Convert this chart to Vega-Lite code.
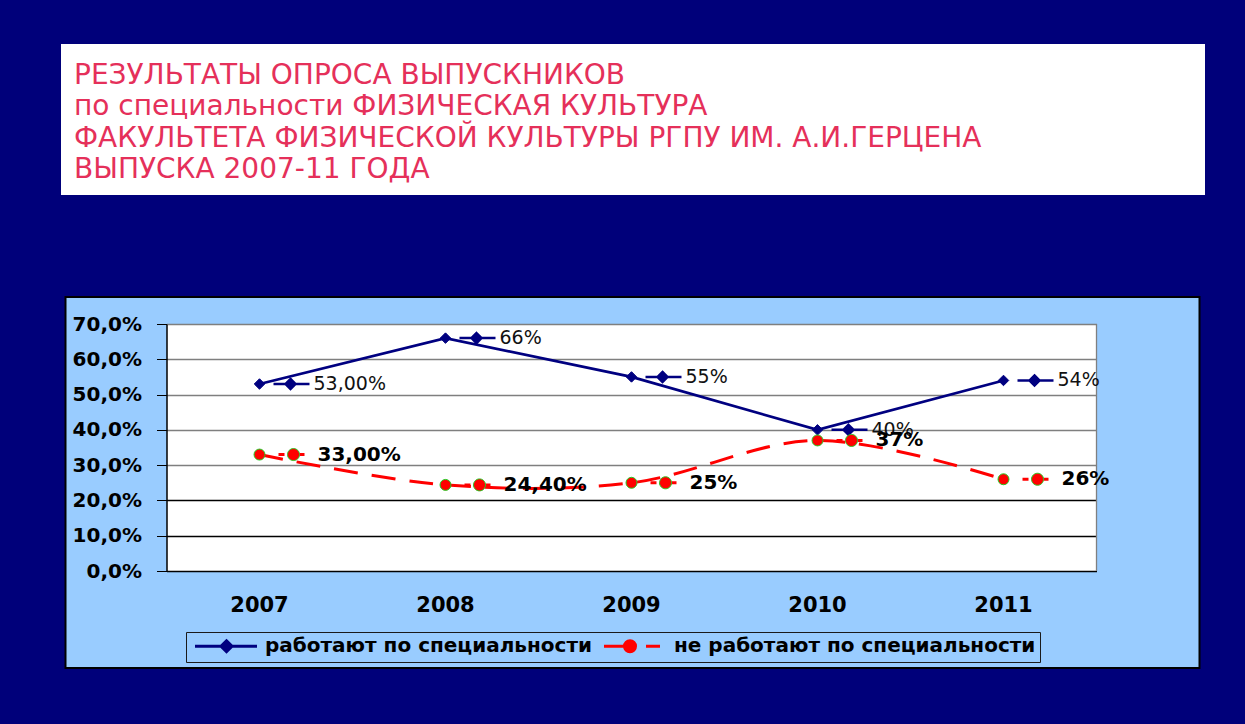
{
  "$schema": "https://vega.github.io/schema/vega-lite/v6.json",
  "background": "#00007A",
  "padding": {"left": 61, "top": 44, "right": 40, "bottom": 56},
  "spacing": 101,
  "center": true,
  "config": {"view": {"stroke": null}, "font": "DejaVu Sans"},
  "vconcat": [
    {
      "width": 1144,
      "height": 151,
      "view": {"fill": "#FFFFFF", "stroke": null},
      "title": {
        "text": ["РЕЗУЛЬТАТЫ ОПРОСА ВЫПУСКНИКОВ", "по специальности ФИЗИЧЕСКАЯ КУЛЬТУРА", "ФАКУЛЬТЕТА ФИЗИЧЕСКОЙ КУЛЬТУРЫ РГПУ ИМ. А.И.ГЕРЦЕНА", "ВЫПУСКА 2007-11 ГОДА"],
        "anchor": "start",
        "frame": "group",
        "orient": "top",
        "offset": -140,
        "dx": 13,
        "font": "DejaVu Sans",
        "fontSize": 28,
        "fontWeight": "normal",
        "color": "#E5305A",
        "lineHeight": 31.5
      },
      "data": {"values": []},
      "mark": {"type": "text"},
      "encoding": {"text": {"value": ""}}
    },
    {
      "width": 1134,
      "height": 371,
      "view": {"fill": "#99CCFF", "stroke": "#000000", "strokeWidth": 2},
      "data": {
        "values": [
          {"year": "2007", "series": "работают по специальности", "value": 53, "label": "53,00%"},
          {"year": "2008", "series": "работают по специальности", "value": 66, "label": "66%"},
          {"year": "2009", "series": "работают по специальности", "value": 55, "label": "55%"},
          {"year": "2010", "series": "работают по специальности", "value": 40, "label": "40%"},
          {"year": "2011", "series": "работают по специальности", "value": 54, "label": "54%"},
          {"year": "2007", "series": "не работают по специальности", "value": 33, "label": "33,00%"},
          {"year": "2008", "series": "не работают по специальности", "value": 24.4, "label": "24,40%"},
          {"year": "2009", "series": "не работают по специальности", "value": 25, "label": "25%"},
          {"year": "2010", "series": "не работают по специальности", "value": 37, "label": "37%"},
          {"year": "2011", "series": "не работают по специальности", "value": 26, "label": "26%"}
        ]
      },
      "encoding": {
        "x": {
          "field": "year",
          "type": "ordinal",
          "scale": {"type": "band", "range": [101, 1031], "paddingInner": 0, "paddingOuter": 0},
          "axis": {
            "orient": "top",
            "offset": -317,
            "title": null,
            "labelAngle": 0,
            "domain": false,
            "ticks": false,
            "tickBand": "center",
            "labelFont": "DejaVu Sans",
            "labelFontWeight": "bold",
            "labelFontSize": 21,
            "labelColor": "#000000",
            "labelBaseline": "alphabetic",
            "labelPadding": 3,
            "grid": true,
            "gridColor": "#FFFFFF",
            "gridWidth": 186,
            "gridOpacity": 1
          }
        },
        "y": {
          "field": "value",
          "type": "quantitative",
          "scale": {"domain": [0, 70], "range": [274, 27], "nice": false, "zero": true},
          "axis": {
            "orient": "left",
            "offset": -101,
            "title": null,
            "values": [0, 10, 20, 30, 40, 50, 60, 70],
            "labelExpr": "replace(format(datum.value, '.1f'), '.', ',') + '%'",
            "labelFont": "DejaVu Sans",
            "labelFontWeight": "bold",
            "labelFontSize": 20,
            "labelColor": "#000000",
            "labelPadding": 15,
            "tickSize": 10,
            "tickColor": "#000000",
            "tickWidth": 1,
            "domainColor": "#000000",
            "domainWidth": 1.5,
            "grid": true,
            "gridColor": {"condition": {"test": "datum.value <= 20", "value": "#000000"}, "value": "#7F7F7F"},
            "gridWidth": 1.3
          }
        }
      },
      "layer": [
        {
          "transform": [{"filter": "datum.series === 'работают по специальности' && datum.year === '2011'"}],
          "mark": {"type": "rule", "color": "#808080", "strokeWidth": 1.3},
          "encoding": {
            "x": {"field": "year", "type": "ordinal", "bandPosition": 1},
            "y": {"datum": 0},
            "y2": {"datum": 70}
          }
        },
        {
          "transform": [{"filter": "datum.series === 'работают по специальности'"}],
          "mark": {"type": "line", "strokeWidth": 2.75},
          "encoding": {
            "color": {
              "field": "series",
              "type": "nominal",
              "scale": {"domain": ["работают по специальности", "не работают по специальности"], "range": ["#000080", "#FF0000"]},
              "legend": {
                "title": null,
                "orient": "none",
                "legendX": 125,
                "legendY": 588,
                "direction": "horizontal",
                "columns": 2,
                "strokeColor": "#1A1A1A",
                "padding": 4,
                "columnPadding": 5,
                "labelFont": "DejaVu Sans",
                "labelFontWeight": "bold",
                "labelFontSize": 20,
                "labelColor": "#000000",
                "labelLimit": 600,
                "labelOffset": 55,
                "symbolSize": 100,
                "encode": {
                  "symbols": {
                    "update": {
                      "shape": {"signal": "datum.value === 'работают по специальности' ? 'M-1,0H11.4M5.3,-1.1L6.4,0L5.3,1.1L4.2,0Z' : 'M-1,0H3M7.4,0H10.2M3.1,0A1.1,1.1 0 1,1 5.3,0A1.1,1.1 0 1,1 3.1,0Z'"},
                      "fill": {"signal": "datum.value === 'работают по специальности' ? '#000080' : '#FF0000'"},
                      "stroke": {"signal": "datum.value === 'работают по специальности' ? '#000080' : '#FF0000'"},
                      "strokeWidth": {"value": 3},
                      "opacity": {"value": 1},
                      "size": {"value": 100}
                    }
                  }
                }
              }
            }
          }
        },
        {
          "transform": [{"filter": "datum.series === 'не работают по специальности'"}],
          "mark": {"type": "line", "strokeWidth": 3, "strokeDash": [24, 14], "interpolate": "cardinal"},
          "encoding": {
            "color": {
              "field": "series",
              "type": "nominal",
              "scale": {"domain": ["работают по специальности", "не работают по специальности"], "range": ["#000080", "#FF0000"]}
            }
          }
        },
        {
          "transform": [{"filter": "datum.series === 'работают по специальности'"}],
          "mark": {"type": "point", "shape": "diamond", "filled": true, "fill": "#000080", "stroke": "#000080", "strokeWidth": 1, "size": 110, "opacity": 1}
        },
        {
          "transform": [{"filter": "datum.series === 'работают по специальности'"}],
          "mark": {"type": "point", "shape": "M14,0H50M31,-5L36,0L31,5L26,0Z", "filled": true, "fill": "#000080", "stroke": "#000080", "strokeWidth": 2.5, "size": 4, "opacity": 1}
        },
        {
          "transform": [{"filter": "datum.series === 'не работают по специальности'"}],
          "mark": {"type": "point", "shape": "circle", "filled": true, "fill": "#FF0000", "stroke": "#22CC22", "strokeWidth": 1, "size": 120, "opacity": 1}
        },
        {
          "transform": [{"filter": "datum.series === 'не работают по специальности'"}],
          "mark": {"type": "point", "shape": "M19,0H25M40,0H45", "filled": false, "stroke": "#FF0000", "strokeWidth": 3, "size": 4, "opacity": 1}
        },
        {
          "transform": [{"filter": "datum.series === 'не работают по специальности'"}],
          "mark": {"type": "point", "shape": "M28,0A6,6 0 1,1 40,0A6,6 0 1,1 28,0Z", "filled": true, "fill": "#FF0000", "stroke": "#22CC22", "strokeWidth": 1, "size": 4, "opacity": 1}
        },
        {
          "transform": [{"filter": "datum.series === 'работают по специальности'"}],
          "mark": {"type": "text", "align": "left", "baseline": "middle", "dx": 54, "font": "DejaVu Sans", "fontSize": 19, "color": "#111111"},
          "encoding": {"text": {"field": "label"}}
        },
        {
          "transform": [{"filter": "datum.series === 'не работают по специальности'"}],
          "mark": {"type": "text", "align": "left", "baseline": "middle", "dx": 58, "font": "DejaVu Sans", "fontSize": 20, "fontWeight": "bold", "color": "#000000"},
          "encoding": {"text": {"field": "label"}}
        }
      ]
    }
  ]
}
